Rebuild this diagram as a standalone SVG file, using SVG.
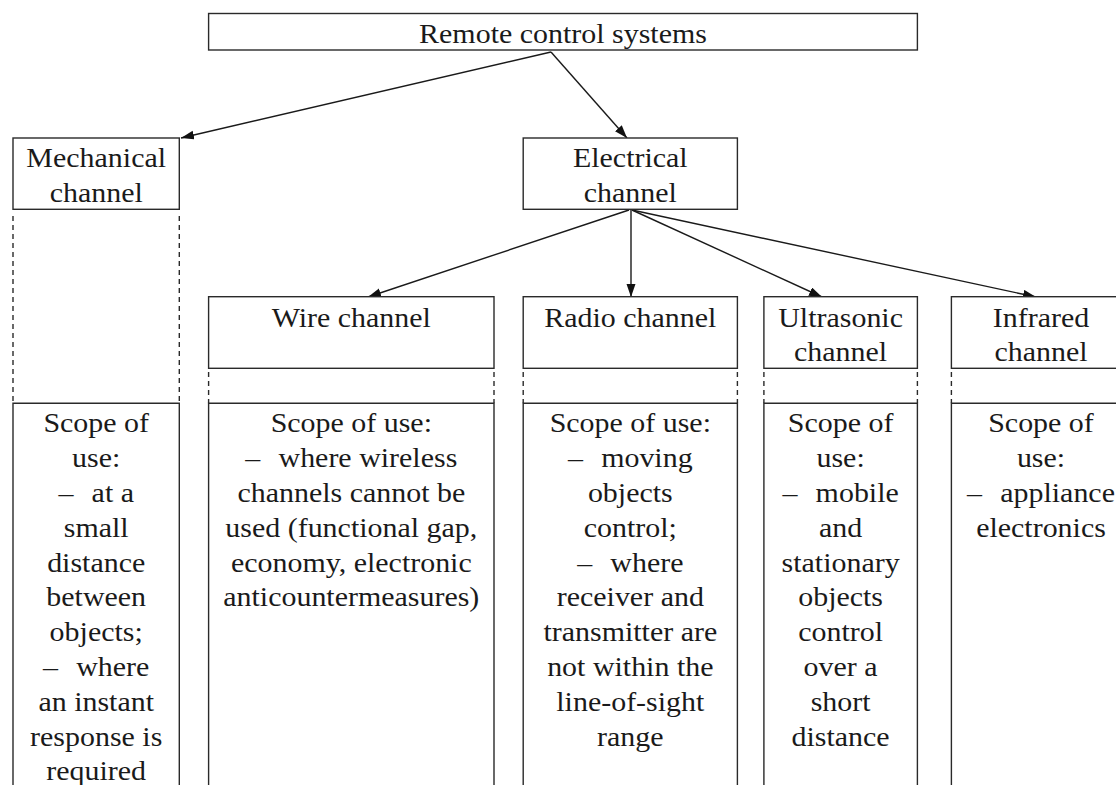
<svg xmlns="http://www.w3.org/2000/svg" width="1116" height="785" viewBox="0 0 1116 785">
<defs>
<style>
.box{fill:#fff;stroke:#2a2a2a;stroke-width:1.4}
.ln{fill:none;stroke:#2a2a2a;stroke-width:1.4}
.dash{fill:none;stroke:#2a2a2a;stroke-width:1.4;stroke-dasharray:5 4}
.arr{fill:none;stroke:#1a1a1a;stroke-width:1.4;marker-end:url(#ah)}
.t{font-family:'Liberation Serif','Times New Roman',serif;font-size:28px;fill:#1a1a1a;text-anchor:middle}
</style>
<marker id="ah" markerUnits="userSpaceOnUse" markerWidth="14" markerHeight="10" refX="13" refY="4.5" orient="auto">
<path d="M0,0 L13,4.5 L0,9 z" fill="#111"/>
</marker>
</defs>
<rect width="1116" height="785" fill="#fff"/>

<g id="connectors">
<line class="arr" x1="551" y1="52" x2="181" y2="138"/>
<line class="arr" x1="551" y1="52" x2="627" y2="138"/>
<line class="arr" x1="629" y1="210" x2="368" y2="297"/>
<line class="arr" x1="631" y1="210" x2="631" y2="297"/>
<line class="arr" x1="632" y1="210" x2="822" y2="297"/>
<line class="arr" x1="632" y1="210" x2="1036" y2="297"/>
</g>

<g id="root">
<rect class="box" x="208.6" y="13.5" width="708.8" height="36.5"/>
<g transform="translate(563,0) scale(1.07,1)"><text class="t" x="0" y="42.7">Remote control systems</text></g>
</g>

<g id="mechanical">
<rect class="box" x="13" y="138" width="166.3" height="71.3"/>
<g transform="translate(96.2,0) scale(1.07,1)"><text class="t" x="0" y="167.3">Mechanical</text><text class="t" x="0" y="201.7">channel</text></g>
<line class="dash" x1="13" y1="216" x2="13" y2="403.3"/>
<line class="dash" x1="179.3" y1="216" x2="179.3" y2="403.3"/>
</g>

<g id="electrical">
<rect class="box" x="523.2" y="138" width="214.2" height="71.3"/>
<g transform="translate(630.3,0) scale(1.07,1)"><text class="t" x="0" y="167.3">Electrical</text><text class="t" x="0" y="201.7">channel</text></g>
</g>

<g id="wire">
<rect class="box" x="208.6" y="296.7" width="285.4" height="71.6"/>
<g transform="translate(351.3,0) scale(1.07,1)"><text class="t" x="0" y="326.7">Wire channel</text></g>
<line class="dash" x1="208.6" y1="372" x2="208.6" y2="403.3"/>
<line class="dash" x1="494" y1="372" x2="494" y2="403.3"/>
</g>

<g id="radio">
<rect class="box" x="523.2" y="296.7" width="214.2" height="71.6"/>
<g transform="translate(630.3,0) scale(1.07,1)"><text class="t" x="0" y="326.7">Radio channel</text></g>
<line class="dash" x1="523.2" y1="372" x2="523.2" y2="403.3"/>
<line class="dash" x1="737.4" y1="372" x2="737.4" y2="403.3"/>
</g>

<g id="ultrasonic">
<rect class="box" x="763.9" y="296.7" width="153.5" height="71.6"/>
<g transform="translate(840.6,0) scale(1.07,1)"><text class="t" x="0" y="326.7">Ultrasonic</text><text class="t" x="0" y="361.5">channel</text></g>
<line class="dash" x1="763.9" y1="372" x2="763.9" y2="403.3"/>
<line class="dash" x1="917.4" y1="372" x2="917.4" y2="403.3"/>
</g>

<g id="infrared">
<rect class="box" x="951.4" y="296.7" width="180" height="71.6"/>
<g transform="translate(1041,0) scale(1.07,1)"><text class="t" x="0" y="326.7">Infrared</text><text class="t" x="0" y="361.5">channel</text></g>
<line class="dash" x1="951.4" y1="372" x2="951.4" y2="403.3"/>
</g>

<g id="scope-mechanical">
<path class="ln" d="M13,790 V403.3 H179.3 V790"/>
<g transform="translate(96.2,0) scale(1.07,1)">
<text class="t" x="0" y="432.5">Scope of<tspan x="0" dy="34.8">use:</tspan><tspan x="0" dy="34.8">– <tspan dx="10">at a</tspan></tspan><tspan x="0" dy="34.8">small</tspan><tspan x="0" dy="34.8">distance</tspan><tspan x="0" dy="34.8">between</tspan><tspan x="0" dy="34.8">objects;</tspan><tspan x="0" dy="34.8">– <tspan dx="10">where</tspan></tspan><tspan x="0" dy="34.8">an instant</tspan><tspan x="0" dy="34.8">response is</tspan><tspan x="0" dy="34.8">required</tspan></text>
</g>
</g>

<g id="scope-wire">
<path class="ln" d="M208.6,790 V403.3 H494 V790"/>
<g transform="translate(351.3,0) scale(1.07,1)">
<text class="t" x="0" y="432.5">Scope of use:<tspan x="0" dy="34.8">– <tspan dx="10">where wireless</tspan></tspan><tspan x="0" dy="34.8">channels cannot be</tspan><tspan x="0" dy="34.8">used (functional gap,</tspan><tspan x="0" dy="34.8">economy, electronic</tspan><tspan x="0" dy="34.8">anticountermeasures)</tspan></text>
</g>
</g>

<g id="scope-radio">
<path class="ln" d="M523.2,790 V403.3 H737.4 V790"/>
<g transform="translate(630.3,0) scale(1.07,1)">
<text class="t" x="0" y="432.5">Scope of use:<tspan x="0" dy="34.8">– <tspan dx="10">moving</tspan></tspan><tspan x="0" dy="34.8">objects</tspan><tspan x="0" dy="34.8">control;</tspan><tspan x="0" dy="34.8">– <tspan dx="10">where</tspan></tspan><tspan x="0" dy="34.8">receiver and</tspan><tspan x="0" dy="34.8">transmitter are</tspan><tspan x="0" dy="34.8">not within the</tspan><tspan x="0" dy="34.8">line-of-sight</tspan><tspan x="0" dy="34.8">range</tspan></text>
</g>
</g>

<g id="scope-ultrasonic">
<path class="ln" d="M763.9,790 V403.3 H917.4 V790"/>
<g transform="translate(840.6,0) scale(1.07,1)">
<text class="t" x="0" y="432.5">Scope of<tspan x="0" dy="34.8">use:</tspan><tspan x="0" dy="34.8">– <tspan dx="10">mobile</tspan></tspan><tspan x="0" dy="34.8">and</tspan><tspan x="0" dy="34.8">stationary</tspan><tspan x="0" dy="34.8">objects</tspan><tspan x="0" dy="34.8">control</tspan><tspan x="0" dy="34.8">over a</tspan><tspan x="0" dy="34.8">short</tspan><tspan x="0" dy="34.8">distance</tspan></text>
</g>
</g>

<g id="scope-infrared">
<path class="ln" d="M951.4,790 V403.3 H1120"/>
<g transform="translate(1041,0) scale(1.07,1)">
<text class="t" x="0" y="432.5">Scope of<tspan x="0" dy="34.8">use:</tspan><tspan x="0" dy="34.8">– <tspan dx="10">appliance</tspan></tspan><tspan x="0" dy="34.8">electronics</tspan></text>
</g>
</g>
</svg>
